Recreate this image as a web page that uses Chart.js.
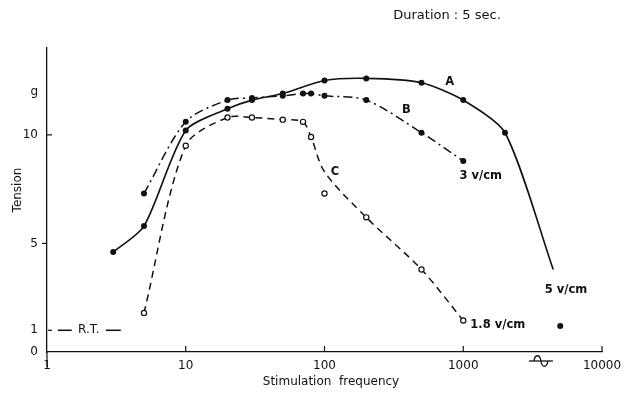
<!DOCTYPE html>
<html><head><meta charset="utf-8">
<script src="https://cdn.jsdelivr.net/npm/chart.js@4/dist/chart.umd.min.js"></script>
<style>html,body{margin:0;padding:0;background:#fff}#wrap{width:631px;height:396px;position:relative}</style>
</head><body><div id="wrap"><canvas id="c" width="631" height="396"></canvas></div>
<script>
// ---- data ----
const freqA = [3, 5, 10, 20, 30, 50, 100, 200, 500, 1000, 2000, 4450];
const tensionA = [4.6, 5.8, 10.2, 11.2, 11.6, 11.9, 12.5, 12.6, 12.4, 11.6, 10.1, 3.8];
const markerA = [1, 1, 1, 1, 1, 1, 1, 1, 1, 1, 1, 0];
const freqAExtra = [5000];
const tensionAExtra = [1.2];

const freqB = [5, 10, 20, 30, 50, 70, 80, 100, 200, 500, 1000];
const tensionB = [7.3, 10.6, 11.6, 11.7, 11.8, 11.9, 11.9, 11.8, 11.6, 10.1, 8.8];

const freqC = [5, 10, 20, 30, 50, 70, 80, 100, 200, 500, 1000];
const tensionC = [1.8, 9.5, 10.8, 10.8, 10.7, 10.6, 9.9, 8.3, 6.2, 3.8, 1.45];
const markerC = [1, 1, 1, 1, 1, 1, 1, 0, 1, 1, 1];
const freqCExtra = [100];
const tensionCExtra = [7.3];

const xTickValues = [1, 10, 100, 1000, 10000];
const yTickValues = [0, 1, 5, 10, 12];
const yTickText = {12: 'g'};

const curveLabels = [
  {text: 'A', x: 800, y: 12.45},
  {text: 'B', x: 389, y: 11.13},
  {text: 'C', x: 119, y: 8.27},
  {text: '3 v/cm', x: 1337, y: 8.1},
  {text: '5 v/cm', x: 5500, y: 2.87},
  {text: '1.8 v/cm', x: 1774, y: 1.25}
];
const rtLabel = {text: 'R.T.', x: 2, y: 1};
const chartTitle = 'Duration : 5 sec.';
const xTitle = 'Stimulation  frequency';
const yTitle = 'Tension';

// ---- helpers ----
const pts = (xs, ys) => xs.map((x, i) => ({x: x, y: ys[i]}));
const FONT = '"DejaVu Sans", sans-serif';
const INK = '#111';

const decor = {
  id: 'decor',
  afterDraw(chart) {
    const ctx = chart.ctx, xs = chart.scales.x, ys = chart.scales.y, ca = chart.chartArea;
    ctx.save();
    ctx.strokeStyle = INK; ctx.fillStyle = INK; ctx.lineWidth = 1.2;
    // x tick marks (inward)
    xTickValues.forEach(v => {
      const px = xs.getPixelForValue(v);
      ctx.beginPath();
      if (v === 1) { ctx.moveTo(px, ca.bottom); ctx.lineTo(px, ca.bottom + 15); }
      else { ctx.moveTo(px, ca.bottom); ctx.lineTo(px, ca.bottom - 6); }
      ctx.stroke();
    });
    // y tick marks
    let py = ys.getPixelForValue(10);
    ctx.beginPath(); ctx.moveTo(ca.left, py); ctx.lineTo(ca.left + 5, py); ctx.stroke();
    py = ys.getPixelForValue(5);
    ctx.beginPath(); ctx.moveTo(ca.left - 5, py); ctx.lineTo(ca.left, py); ctx.stroke();
    py = ys.getPixelForValue(1);
    ctx.beginPath(); ctx.moveTo(ca.left + 1, py); ctx.lineTo(ca.left + 5, py); ctx.stroke();
    // R.T. marker
    const rx = xs.getPixelForValue(rtLabel.x), ry = ys.getPixelForValue(rtLabel.y);
    ctx.lineWidth = 1.5;
    ctx.beginPath(); ctx.moveTo(rx - 31, ry); ctx.lineTo(rx - 17, ry); ctx.stroke();
    ctx.beginPath(); ctx.moveTo(rx + 17, ry); ctx.lineTo(rx + 32, ry); ctx.stroke();
    ctx.font = '12px ' + FONT; ctx.textAlign = 'center'; ctx.textBaseline = 'middle';
    ctx.fillText(rtLabel.text, rx, ry);
    // curve labels
    ctx.font = '600 11.5px ' + FONT;
    curveLabels.forEach(l => {
      ctx.fillText(l.text, xs.getPixelForValue(l.x), ys.getPixelForValue(l.y));
    });
    // axis-break symbol near 3600
    const wx = xs.getPixelForValue(3630), wy = ca.bottom + 9;
    ctx.lineWidth = 1.3;
    ctx.beginPath(); ctx.moveTo(wx - 12, wy); ctx.lineTo(wx + 12, wy); ctx.stroke();
    ctx.beginPath();
    ctx.moveTo(wx - 7, wy);
    ctx.bezierCurveTo(wx - 6, wy - 7, wx - 1, wy - 7, wx, wy);
    ctx.bezierCurveTo(wx + 1, wy + 7, wx + 6, wy + 7, wx + 7, wy);
    ctx.stroke();
    // titles
    ctx.font = '13px ' + FONT; ctx.textAlign = 'center';
    ctx.fillText(chartTitle, 447, 16);
    ctx.font = '12px ' + FONT;
    ctx.fillText(xTitle, 331, 382);
    ctx.translate(18, 190); ctx.rotate(-Math.PI / 2);
    ctx.fillText(yTitle, 0, 0);
    ctx.restore();
  }
};

new Chart(document.getElementById('c'), {
  type: 'line',
  data: {
    datasets: [
      {
        label: 'A', data: pts(freqA, tensionA),
        borderColor: INK, backgroundColor: INK, borderWidth: 1.6,
        pointRadius: markerA.map(m => m ? 3 : 0), pointBorderWidth: 0,
        tension: 0.25
      },
      {
        label: 'A extra', data: pts(freqAExtra, tensionAExtra), showLine: false,
        borderColor: INK, backgroundColor: INK, pointRadius: 3, pointBorderWidth: 0
      },
      {
        label: 'B', data: pts(freqB, tensionB),
        borderColor: INK, backgroundColor: INK, borderWidth: 1.5,
        borderDash: [9, 4, 2, 4],
        pointRadius: 3, pointBorderWidth: 0,
        tension: 0.3
      },
      {
        label: 'C', data: pts(freqC, tensionC),
        borderColor: INK, backgroundColor: '#fff', borderWidth: 1.5,
        borderDash: [7, 5],
        pointRadius: markerC.map(m => m ? 2.6 : 0), pointBorderWidth: 1.2,
        tension: 0.3
      },
      {
        label: 'C extra', data: pts(freqCExtra, tensionCExtra), showLine: false,
        borderColor: INK, backgroundColor: '#fff', pointRadius: 2.6, pointBorderWidth: 1.2
      }
    ]
  },
  options: {
    responsive: false, animation: false, devicePixelRatio: 1,
    layout: {padding: {top: 48, right: 29, left: 0, bottom: 0}},
    plugins: {legend: {display: false}, tooltip: {enabled: false}},
    scales: {
      x: {
        type: 'logarithmic', min: 1, max: 10000,
        afterBuildTicks: s => { s.ticks = xTickValues.map(v => ({value: v})); },
        afterFit: s => { s.height = 44; },
        grid: {display: false, drawTicks: false},
        border: {display: true, color: INK, width: 1.3},
        ticks: {color: INK, font: {family: FONT, size: 12}, padding: 7, maxRotation: 0,
          callback: v => String(v)}
      },
      y: {
        type: 'linear', min: 0, max: 14,
        afterBuildTicks: s => { s.ticks = yTickValues.map(v => ({value: v})); },
        afterFit: s => { s.width = 47; },
        grid: {display: false, drawTicks: false},
        border: {display: true, color: INK, width: 1.3},
        ticks: {color: INK, font: {family: FONT, size: 12}, padding: 9,
          callback: v => (yTickText[v] !== undefined ? yTickText[v] : String(v))}
      }
    }
  },
  plugins: [decor]
});
</script></body></html>
